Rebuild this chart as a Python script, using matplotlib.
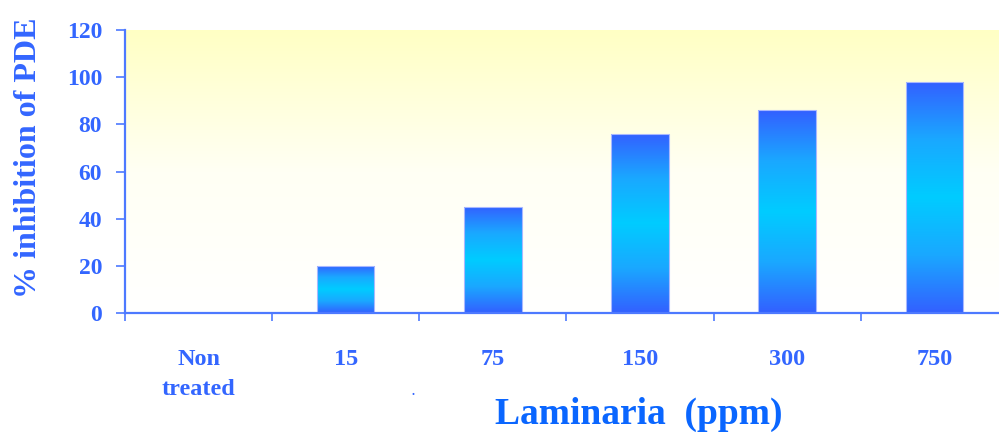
import numpy as np
import matplotlib.pyplot as plt
from matplotlib.colors import LinearSegmentedColormap

# PDE inhibition by Laminaria extract
categories = ['Non\ntreated', '15', '75', '150', '300', '750']
inhibition = [0, 20, 45, 76, 86, 98]

text_blue = '#3366ff'
axis_blue = '#4d79ff'

plt.rcParams['font.family'] = ['Liberation Serif', 'DejaVu Serif']
plt.rcParams['font.weight'] = 'bold'

fig = plt.figure(figsize=(9.99, 4.32), dpi=100)
ax = fig.add_axes([0.1251, 0.2755, 0.8749, 0.655])

x = np.arange(len(categories))

# pale yellow wash fading to white toward the bottom
bg = LinearSegmentedColormap.from_list('bg', ['#ffffff', '#fffff4', '#ffffc4'])
ax.imshow(np.linspace(0, 1, 256).reshape(-1, 1), cmap=bg, aspect='auto',
          origin='lower', extent=[0, 1, 0, 1], transform=ax.transAxes, zorder=0)

bars = ax.bar(x, inhibition, width=0.39, facecolor='none',
              edgecolor='#a8b8ff', linewidth=0.8, zorder=3)

# blue - cyan - blue vertical gradient inside each bar
grad = LinearSegmentedColormap.from_list('bar', ['#3360ff', '#1aa8ff', '#00ccff', '#1aa8ff', '#3360ff'])
for b in bars:
    if b.get_height() <= 0:
        continue
    x0, y0 = b.get_x(), b.get_y()
    im = ax.imshow(np.linspace(0, 1, 256).reshape(-1, 1), cmap=grad, aspect='auto',
                   origin='lower', extent=[x0, x0 + b.get_width(), y0, y0 + b.get_height()],
                   zorder=2)
    im.set_clip_path(b)

ax.set_xlim(-0.5, 5.44)
ax.set_ylim(0, 120)

for s in ['top', 'right']:
    ax.spines[s].set_visible(False)
for s in ['left', 'bottom']:
    ax.spines[s].set_color(axis_blue)
    ax.spines[s].set_linewidth(1.6)
    ax.spines[s].set_zorder(4)

ax.set_yticks(range(0, 121, 20))
ax.tick_params(axis='y', direction='out', length=6.5, width=1.2, color=axis_blue,
               labelcolor=text_blue, labelsize=17, pad=10)

# ticks sit on category boundaries, labels at category centres
ax.set_xticks(np.arange(-0.5, 5, 1))
ax.set_xticklabels([])
ax.set_xticks(x, minor=True)
ax.set_xticklabels(categories, minor=True, linespacing=1.55, va='top')
ax.tick_params(axis='x', which='major', direction='out', length=6, width=1.2, color=axis_blue)
ax.tick_params(axis='x', which='minor', length=0, labelcolor=text_blue, labelsize=17.5, pad=26)

ax.set_ylabel('% inhibition of PDE', color=text_blue, fontsize=23, fontweight='bold')
ax.yaxis.set_label_coords(-0.094, 0.55)

fig.text(0.639, 0.04, 'Laminaria  (ppm)', color='#0a66ff', fontsize=27,
         fontweight='bold', ha='center', va='center')
fig.text(0.413, 0.085, '.', color=text_blue, fontsize=9, ha='center')

fig.savefig('out.png', dpi=100)
